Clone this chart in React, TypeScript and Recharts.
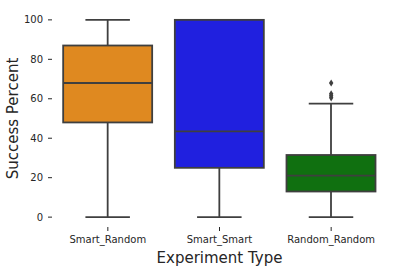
import { ComposedChart, Bar, Scatter, XAxis, YAxis } from 'recharts'

const CATEGORIES = ['Smart_Random', 'Smart_Smart', 'Random_Random']
const LOW_WHISKERS = [0, 0, 0]
const Q1S = [48, 25, 13]
const MEDIANS = [68, 43.5, 21]
const Q3S = [87, 100, 31.5]
const HIGH_WHISKERS = [100, 100, 57.5]
const FILLS = ['#df8920', '#2020df', '#107010']

const OUTLIER_CATEGORY = 'Random_Random'
const OUTLIERS = [68, 62.5, 61.5, 60.5]

const Y_TICKS = [0, 20, 40, 60, 80, 100]

const LINE = '#3f3f3f'
const TEXT = '#262626'
const FONT = '"DejaVu Sans", sans-serif'
const SW = 1.8

const rows = CATEGORIES.map((name, i) => ({
  name,
  lo: LOW_WHISKERS[i],
  q1: Q1S[i],
  med: MEDIANS[i],
  q3: Q3S[i],
  hi: HIGH_WHISKERS[i],
  fill: FILLS[i],
}))

const outlierRows = OUTLIERS.map(value => ({ name: OUTLIER_CATEGORY, value }))

// box drawn from the bar's own [q1, q3] extent, so the scale comes from recharts
function BoxShape(props: any) {
  const { x, y, width, height, payload } = props
  const top = Math.min(y, y + height)
  const h = Math.abs(height)
  const ppu = h / (payload.q3 - payload.q1)
  const py = (v: number) => top + (payload.q3 - v) * ppu
  const cx = x + width / 2
  const cap = width / 4
  return (
    <g>
      <line x1={cx} x2={cx} y1={py(payload.q1)} y2={py(payload.lo)} stroke={LINE} strokeWidth={SW} />
      <line x1={cx} x2={cx} y1={py(payload.hi)} y2={py(payload.q3)} stroke={LINE} strokeWidth={SW} />
      <line x1={cx - cap} x2={cx + cap} y1={py(payload.lo)} y2={py(payload.lo)} stroke={LINE} strokeWidth={SW} />
      <line x1={cx - cap} x2={cx + cap} y1={py(payload.hi)} y2={py(payload.hi)} stroke={LINE} strokeWidth={SW} />
      <rect x={x} y={top} width={width} height={h} fill={payload.fill} stroke={LINE} strokeWidth={SW} />
      <line x1={x} x2={x + width} y1={py(payload.med)} y2={py(payload.med)} stroke={LINE} strokeWidth={SW} />
    </g>
  )
}

function Diamond(props: any) {
  const { cx, cy } = props
  if (cx == null || cy == null || isNaN(cx) || isNaN(cy)) return <g />
  return (
    <polygon
      points={`${cx},${cy - 3.6} ${cx + 2.2},${cy} ${cx},${cy + 3.6} ${cx - 2.2},${cy}`}
      fill={LINE}
    />
  )
}

export default function App() {
  return (
    <div style={{ position: 'fixed', left: 0, top: 0, width: 397, height: 272, background: '#fff', fontFamily: FONT }}>
      <ComposedChart
        width={397}
        height={272}
        data={rows}
        margin={{ top: 10, right: 10, bottom: 5, left: 0 }}
        barCategoryGap="10%"
      >
        <XAxis
          dataKey="name"
          type="category"
          allowDuplicatedCategory={false}
          height={40}
          axisLine={false}
          tickSize={4}
          tickMargin={5}
          tickLine={{ stroke: TEXT }}
          tick={{ fontSize: 10, fill: TEXT, fontFamily: FONT }}
          label={{
            value: 'Experiment Type',
            position: 'insideBottom',
            offset: 4,
            style: { fontSize: 15, fill: TEXT, fontFamily: FONT },
          }}
        />
        <YAxis
          type="number"
          domain={[-5, 105]}
          ticks={Y_TICKS}
          width={52}
          axisLine={false}
          tickSize={4}
          tickMargin={5}
          tickLine={{ stroke: TEXT }}
          tick={{ fontSize: 10, fill: TEXT, fontFamily: FONT }}
          label={{
            value: 'Success Percent',
            angle: -90,
            position: 'insideLeft',
            offset: 13,
            style: { textAnchor: 'middle', fontSize: 15, fill: TEXT, fontFamily: FONT },
          }}
        />
        <Bar dataKey={(d: any) => [d.q1, d.q3]} shape={BoxShape} isAnimationActive={false} />
        <Scatter data={outlierRows} dataKey="value" shape={Diamond} isAnimationActive={false} />
      </ComposedChart>
    </div>
  )
}
